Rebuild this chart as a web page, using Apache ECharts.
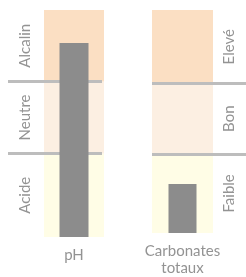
<!DOCTYPE html>
<html>
<head>
<meta charset="utf-8">
<style>
  html, body { margin: 0; padding: 0; background: #fff; }
  #chart { width: 246px; height: 277px; }
</style>
<script src="https://cdn.jsdelivr.net/npm/echarts@6/dist/echarts.min.js"></script>
</head>
<body>
<div id="chart"></div>
<script>
// valeurs en % de l'echelle de chaque colonne
var categories = ['pH', 'Carbonates\ntotaux']
var values = [85.5, 22]
var phZones = ['Acide', 'Neutre', 'Alcalin']
var phBounds = [0, 36.8, 68.5, 100]
var carbZones = ['Faible', 'Bon', 'Elevé']
var carbBounds = [0, 35.5, 67, 100]
var zoneColors = ['#fffde6', '#fcefe2', '#fbdfc3']

var font = 'Lato'
var textColor = '#939393'

function bands(names, bounds, side) {
  return names.map(function (n, i) {
    return [
      {
        name: n,
        yAxis: bounds[i],
        itemStyle: { color: zoneColors[i] },
        label: {
          show: true,
          position: side,
          distance: side === 'left' ? 19 : 16,
          rotate: 90,
          align: 'center',
          verticalAlign: 'middle',
          color: textColor,
          fontFamily: font,
          fontSize: 15
        }
      },
      { yAxis: bounds[i + 1] }
    ]
  })
}

function seps(bounds, x0, x1) {
  return bounds.slice(1, 3).map(function (b) {
    return [{ x: x0, yAxis: b }, { x: x1, yAxis: b }]
  })
}

var chart = echarts.init(document.getElementById('chart'))
var option = {
  animation: false,
  grid: [
    { left: 44, width: 60, top: 10, height: 227 },
    { left: 152, width: 61, top: 10, height: 227 }
  ],
  xAxis: [0, 1].map(function (i) {
    return {
      type: 'category',
      gridIndex: i,
      data: [categories[i]],
      axisLine: { show: false },
      axisTick: { show: false },
      axisLabel: {
        interval: 0,
        margin: 10,
        color: textColor,
        fontFamily: font,
        fontSize: 15,
        lineHeight: 17
      }
    }
  }),
  yAxis: [0, 1].map(function (i) {
    return { type: 'value', gridIndex: i, min: 0, max: 100, show: false }
  }),
  series: [
    {
      type: 'line', xAxisIndex: 0, yAxisIndex: 0, data: [],
      markArea: { silent: true, data: bands(phZones, phBounds, 'left') },
      markLine: {
        silent: true, symbol: 'none', label: { show: false },
        lineStyle: { color: '#bdbdbd', width: 3, type: 'solid' },
        data: seps(phBounds, 8, 102)
      }
    },
    {
      type: 'line', xAxisIndex: 1, yAxisIndex: 1, data: [],
      markArea: { silent: true, data: bands(carbZones, carbBounds, 'right') },
      markLine: {
        silent: true, symbol: 'none', label: { show: false },
        lineStyle: { color: '#bdbdbd', width: 3, type: 'solid' },
        data: seps(carbBounds, 152, 246)
      }
    },
    {
      type: 'bar', xAxisIndex: 0, yAxisIndex: 0, zlevel: 1,
      barWidth: 29, itemStyle: { color: '#8c8c8c' },
      data: [values[0]]
    },
    {
      type: 'bar', xAxisIndex: 1, yAxisIndex: 1, zlevel: 1,
      barWidth: 28, itemStyle: { color: '#8c8c8c' },
      data: [values[1]]
    }
  ]
}
chart.setOption(option)

window.addEventListener('resize', function () {
  chart.resize()
})
</script>
</body>
</html>
